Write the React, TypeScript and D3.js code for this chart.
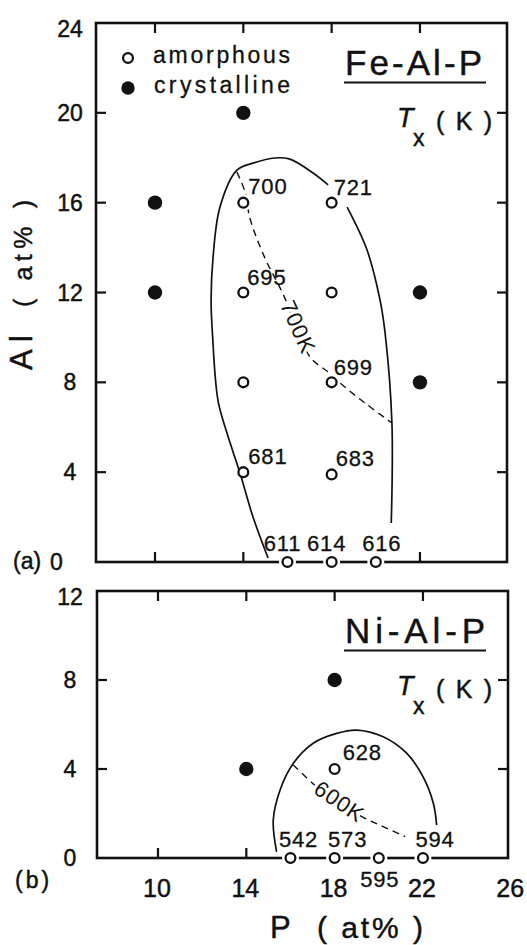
// Fe-Al-P / Ni-Al-P glass-forming ranges with crystallization temperatures Tx.
// D3 owns the <svg>; each panel gets its own P / Al scales.

import * as d3 from "d3";
import React, { useEffect, useRef } from "react";

type Pt = [number, number];
interface Sample { p: number; al: number; tx: number | null }

// ── Axis ticks ────────────────────────────────────────────────────────────────
const P_TICKS = [10, 14, 18, 22, 26];
const FE_AL_TICKS = [0, 4, 8, 12, 16, 20, 24];
const NI_AL_TICKS = [0, 4, 8, 12];

// ── (a) Fe-Al-P ──────────────────────────────────────────────────────────────
const FE_CRYSTALLINE: Pt[] = [[10, 16], [10, 12], [14, 20], [22, 12], [22, 8]];
const FE_AMORPHOUS: Sample[] = [
  { p: 14, al: 16, tx: 700 },
  { p: 18, al: 16, tx: 721 },
  { p: 14, al: 12, tx: 695 },
  { p: 18, al: 12, tx: null },
  { p: 14, al: 8, tx: null },
  { p: 18, al: 8, tx: 699 },
  { p: 14, al: 4, tx: 681 },
  { p: 18, al: 3.9, tx: 683 },
  { p: 16, al: 0, tx: 611 },
  { p: 18, al: 0, tx: 614 },
  { p: 20, al: 0, tx: 616 },
];
// glass-forming boundary, broken where the "721" label sits
const FE_EDGE_LEFT: Pt[] = [
  [15.12, 0.18], [14.44, 2.0], [13.85, 3.96], [13.26, 5.74], [12.85, 7.21],
  [12.6, 10.2], [12.54, 11.67], [12.63, 13.58], [12.94, 15.8], [13.71, 17.45],
  [14.44, 17.76], [15.43, 17.99], [16.11, 17.94], [17.16, 17.32], [17.84, 16.79],
];
const FE_EDGE_RIGHT: Pt[] = [
  [18.7, 15.8], [19.6, 13.9], [20.19, 11.67], [20.42, 10.2], [20.73, 6.19], [20.7, 1.74],
];
const FE_ISO_700: Pt[] = [
  [13.71, 17.36], [14.08, 16.47], [14.3, 15.3], [14.98, 13.53], [15.8, 11.93],
  [17.02, 9.13], [17.84, 8.46], [18.38, 7.97], [19.51, 7.08], [20.73, 6.19],
];

// ── (b) Ni-Al-P ──────────────────────────────────────────────────────────────
const NI_CRYSTALLINE: Pt[] = [[14, 4], [18, 8]];
const NI_AMORPHOUS: Sample[] = [
  { p: 18, al: 4, tx: 628 },
  { p: 16, al: 0, tx: 542 },
  { p: 18, al: 0, tx: 573 },
  { p: 20, al: 0, tx: 595 },
  { p: 22, al: 0, tx: 594 },
];
const NI_EDGE: Pt[] = [
  [15.37, 0.28], [15.22, 1.71], [15.53, 3.06], [16.13, 4.26], [17.03, 5.16],
  [18.09, 5.6], [19.0, 5.75], [20.2, 5.45], [21.26, 4.71], [22.0, 3.66],
  [22.47, 2.46], [22.62, 1.48],
];
const NI_ISO_600: Pt[] = [
  [16.13, 4.18], [17.19, 3.2], [18.2, 2.5], [19.23, 1.86], [20.2, 1.41], [21.19, 0.96],
];

// ── Look ─────────────────────────────────────────────────────────────────────
const INK = "#111";
const FONT = "'Liberation Sans', Arial, Helvetica, sans-serif";
const PX_PER_P = 22.08;

// where each Tx number sits relative to its circle
const TX_LABEL: Record<number, { anchor: string; dx: number; dy: number }> = {
  700: { anchor: "start", dx: 5, dy: -9 },
  721: { anchor: "start", dx: 2, dy: -8 },
  695: { anchor: "start", dx: 4, dy: -8 },
  699: { anchor: "start", dx: 2, dy: -7 },
  681: { anchor: "start", dx: 5, dy: -8 },
  683: { anchor: "start", dx: 4, dy: -8 },
  611: { anchor: "middle", dx: -5, dy: -11 },
  614: { anchor: "middle", dx: -5, dy: -11 },
  616: { anchor: "middle", dx: 6, dy: -11 },
  628: { anchor: "start", dx: 8, dy: -9 },
  542: { anchor: "middle", dx: 8, dy: -11 },
  573: { anchor: "middle", dx: 13, dy: -11 },
  595: { anchor: "middle", dx: 1, dy: 29 },
  594: { anchor: "middle", dx: 12, dy: -11 },
};

interface Panel {
  tag: string; title: string; titleLen: number;
  left: number; right: number; top: number; bottom: number; x10: number;
  alMax: number; alTicks: number[];
  crystalline: Pt[]; amorphous: Sample[]; edges: Pt[][]; iso: Pt[];
  isoLabel: { text: string; p: number; al: number; angle: number };
  legend: boolean;
}

const PANELS: Panel[] = [
  {
    tag: "(a)", title: "Fe-Al-P", titleLen: 137,
    left: 96, right: 507, top: 23, bottom: 562, x10: 155,
    alMax: 24, alTicks: FE_AL_TICKS,
    crystalline: FE_CRYSTALLINE, amorphous: FE_AMORPHOUS,
    edges: [FE_EDGE_LEFT, FE_EDGE_RIGHT], iso: FE_ISO_700,
    isoLabel: { text: "700K", p: 16.45, al: 10.45, angle: 66 },
    legend: true,
  },
  {
    tag: "(b)", title: "Ni-Al-P", titleLen: 140,
    left: 97, right: 508, top: 591, bottom: 858, x10: 158,
    alMax: 12, alTicks: NI_AL_TICKS,
    crystalline: NI_CRYSTALLINE, amorphous: NI_AMORPHOUS,
    edges: [NI_EDGE], iso: NI_ISO_600,
    isoLabel: { text: "600K", p: 18.2, al: 2.52, angle: 34 },
    legend: false,
  },
];

// plain black text with a hair of outline, the scan is heavy-stroked
function label(
  sel: d3.Selection<any, unknown, null, undefined>,
  size: number,
) {
  return sel.append("text")
    .attr("font-size", size).attr("font-family", FONT).attr("fill", INK)
    .attr("stroke", INK).attr("stroke-width", 0.45);
}

function drawPanel(svg: d3.Selection<SVGSVGElement, unknown, null, undefined>, cfg: Panel, isLast: boolean) {
  const x = d3.scaleLinear().domain([10, 26]).range([cfg.x10, cfg.x10 + 16 * PX_PER_P]);
  const y = d3.scaleLinear().domain([0, cfg.alMax]).range([cfg.bottom, cfg.top]);
  const g = svg.append("g");
  const line = d3.line<Pt>().x((d) => x(d[0])).y((d) => y(d[1])).curve(d3.curveCatmullRom.alpha(0.5));

  // frame
  g.append("rect")
    .attr("x", cfg.left).attr("y", cfg.top)
    .attr("width", cfg.right - cfg.left).attr("height", cfg.bottom - cfg.top)
    .attr("fill", "none").attr("stroke", INK).attr("stroke-width", 2.6);

  // inward ticks
  const onAxis = new Set(cfg.amorphous.filter((d) => d.al === 0).map((d) => d.p));
  const pInner = P_TICKS.filter((v) => x(v) < cfg.right - 5);
  const alInner = cfg.alTicks.filter((v) => v > 0 && v < cfg.alMax);
  const tick = (x1: number, y1: number, x2: number, y2: number) =>
    g.append("line").attr("x1", x1).attr("y1", y1).attr("x2", x2).attr("y2", y2)
      .attr("stroke", INK).attr("stroke-width", 2.2);
  pInner.forEach((v) => tick(x(v), cfg.top, x(v), cfg.top + 10));
  pInner.filter((v) => !onAxis.has(v)).forEach((v) => tick(x(v), cfg.bottom, x(v), cfg.bottom - 10));
  alInner.forEach((v) => {
    tick(cfg.left, y(v), cfg.left + 10, y(v));
    tick(cfg.right, y(v), cfg.right - 10, y(v));
  });

  // Al tick labels
  g.selectAll("text.al")
    .data(cfg.alTicks.filter((v) => !(v === 0 && cfg.legend)))
    .join("text")
    .attr("class", "al")
    .attr("x", 70)
    .attr("y", (d) => Math.max(y(d) + 8, cfg.top + 14))
    .attr("text-anchor", "middle")
    .attr("font-size", 23).attr("font-family", FONT).attr("fill", INK)
    .attr("stroke", INK).attr("stroke-width", 0.45)
    .text((d) => d);
  if (cfg.legend) {
    label(g, 23).attr("x", 50).attr("y", y(0) + 8).text("0");
    label(g, 23).attr("x", 13).attr("y", y(0) + 7).text(cfg.tag);
  } else {
    label(g, 23).attr("x", 15).attr("y", 888).attr("letter-spacing", 3).text(cfg.tag);
  }

  // P tick labels under the last panel
  if (isLast) {
    g.selectAll("text.p")
      .data(P_TICKS)
      .join("text")
      .attr("class", "p")
      .attr("x", (d) => x(d) - 1)
      .attr("y", cfg.bottom + 39)
      .attr("text-anchor", "middle")
      .attr("font-size", 25).attr("font-family", FONT).attr("fill", INK)
      .attr("stroke", INK).attr("stroke-width", 0.45)
      .text((d) => d);
  }

  // isotherm (dashed)
  g.append("path").attr("d", line(cfg.iso))
    .attr("fill", "none").attr("stroke", INK).attr("stroke-width", 1.4)
    .attr("stroke-dasharray", "7 5");

  // halo under open circles breaks the axis and dashed line
  g.selectAll("circle.halo")
    .data(cfg.amorphous)
    .join("circle")
    .attr("class", "halo")
    .attr("cx", (d) => x(d.p)).attr("cy", (d) => y(d.al))
    .attr("r", 8.5).attr("fill", "#fff");

  // glass-forming boundary
  cfg.edges.forEach((e) => {
    g.append("path").attr("d", line(e))
      .attr("fill", "none").attr("stroke", INK).attr("stroke-width", 1.7);
  });

  // isotherm label on top of the dashes
  const L = cfg.isoLabel;
  g.append("text")
    .attr("transform", `translate(${x(L.p)},${y(L.al)}) rotate(${L.angle})`)
    .attr("text-anchor", "middle").attr("dy", 7)
    .attr("font-size", 22).attr("font-family", FONT).attr("fill", INK)
    .attr("letter-spacing", 1)
    .attr("stroke", "#fff").attr("stroke-width", 6).attr("paint-order", "stroke")
    .text(L.text);

  // samples
  g.selectAll("circle.am")
    .data(cfg.amorphous)
    .join("circle")
    .attr("class", "am")
    .attr("cx", (d) => x(d.p)).attr("cy", (d) => y(d.al))
    .attr("r", 4.9).attr("fill", "#fff").attr("stroke", INK).attr("stroke-width", 2.3);
  g.selectAll("circle.cr")
    .data(cfg.crystalline)
    .join("circle")
    .attr("class", "cr")
    .attr("cx", (d) => x(d[0])).attr("cy", (d) => y(d[1]))
    .attr("r", 7.2).attr("fill", INK);

  // Tx values
  g.selectAll("text.tx")
    .data(cfg.amorphous.filter((d) => d.tx !== null))
    .join("text")
    .attr("class", "tx")
    .attr("x", (d) => x(d.p) + TX_LABEL[d.tx!].dx)
    .attr("y", (d) => y(d.al) + TX_LABEL[d.tx!].dy)
    .attr("text-anchor", (d) => TX_LABEL[d.tx!].anchor)
    .attr("font-size", 22).attr("font-family", FONT).attr("fill", INK)
    .attr("stroke", INK).attr("stroke-width", 0.3)
    .attr("letter-spacing", 0.8)
    .text((d) => d.tx!);

  // system title, underlined
  label(g, 35).attr("x", 345).attr("y", cfg.top + 52)
    .attr("textLength", cfg.titleLen).attr("lengthAdjust", "spacing")
    .text(cfg.title);
  g.append("line")
    .attr("x1", 344).attr("x2", 486)
    .attr("y1", cfg.top + 59.5).attr("y2", cfg.top + 59.5)
    .attr("stroke", INK).attr("stroke-width", 2);

  // Tx (K)
  label(g, 27).attr("x", 397).attr("y", cfg.top + 104)
    .attr("font-style", "italic").text("T");
  label(g, 23).attr("x", 413).attr("y", cfg.top + 123).text("x");
  label(g, 25).attr("x", 436).attr("y", cfg.top + 107)
    .attr("textLength", 56).attr("lengthAdjust", "spacing")
    .text("(K)");

  // legend
  if (cfg.legend) {
    g.append("circle").attr("cx", 128).attr("cy", 58).attr("r", 4.9)
      .attr("fill", "#fff").attr("stroke", INK).attr("stroke-width", 2.3);
    g.append("circle").attr("cx", 128).attr("cy", 88).attr("r", 6.7).attr("fill", INK);
    label(g, 23).attr("x", 153).attr("y", 63).attr("stroke-width", 0.3)
      .attr("textLength", 137).attr("lengthAdjust", "spacing").text("amorphous");
    label(g, 23).attr("x", 154).attr("y", 93).attr("stroke-width", 0.3)
      .attr("textLength", 136).attr("lengthAdjust", "spacing").text("crystalline");
  }
}

export default function App() {
  const svgRef = useRef<SVGSVGElement>(null);

  useEffect(() => {
    const svg = d3.select(svgRef.current!);
    svg.selectAll("*").remove();
    svg.append("rect").attr("width", 527).attr("height", 945).attr("fill", "#fff");

    PANELS.forEach((p, i) => drawPanel(svg, p, i === PANELS.length - 1));

    // axis titles
    label(svg, 31).attr("transform", "translate(32,370) rotate(-90)")
      .attr("textLength", 35).attr("lengthAdjust", "spacing")
      .text("Al");
    label(svg, 25).attr("transform", "translate(32,307) rotate(-90)")
      .attr("textLength", 107).attr("lengthAdjust", "spacing")
      .text("( at% )");
    label(svg, 31).attr("x", 270).attr("y", 938).text("P");
    label(svg, 30).attr("x", 317).attr("y", 938)
      .attr("textLength", 106).attr("lengthAdjust", "spacing")
      .text("( at% )");
  }, []);

  return (
    <svg
      ref={svgRef}
      width={527}
      height={945}
      viewBox="0 0 527 945"
      style={{ position: "absolute", left: 0, top: 0 }}
    />
  );
}
